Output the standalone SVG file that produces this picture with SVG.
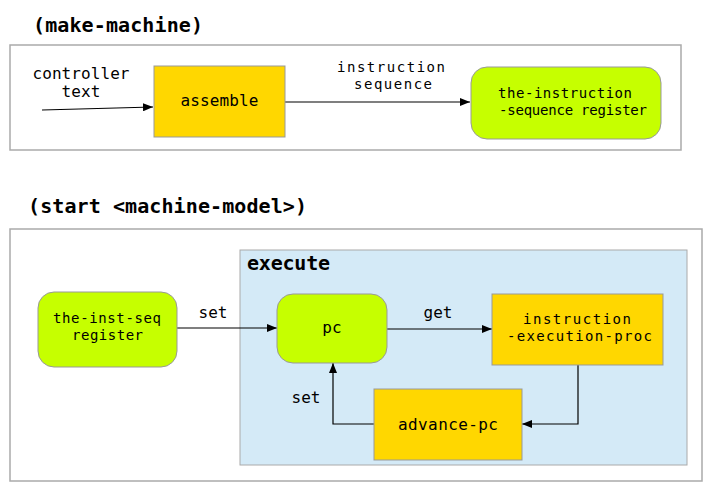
<svg xmlns="http://www.w3.org/2000/svg" width="719" height="492" viewBox="0 0 719 492">
<style>
text{font-family:"DejaVu Sans Mono","Liberation Mono",monospace;fill:#000;}
.t{font-size:16px;}
.s{font-size:14px;}
.title{font-size:20px;font-weight:bold;}
.frame{fill:#fff;stroke:#aaa;stroke-width:1.5;}
.gold{fill:#FFD700;stroke:#999;stroke-width:1;}
.green{fill:#C6FF00;stroke:#999;stroke-width:1;}
.exec{fill:#D4EAF7;stroke:#aaa;stroke-width:1;}
.c{fill:none;stroke:#000;stroke-width:1.2;}
</style>
<defs>
<marker id="ah" viewBox="0 0 10 8" refX="10" refY="4" markerWidth="10" markerHeight="8" markerUnits="userSpaceOnUse" orient="auto">
<path d="M0,0 L10,4 L0,8 z" fill="#000"/>
</marker>
</defs>
<rect width="719" height="492" fill="#fff"/>
<text class="title" x="33" y="32" textLength="170" lengthAdjust="spacing">(make-machine)</text>
<rect class="frame" x="10" y="45" width="671" height="105"/>
<text class="title" x="28" y="213" textLength="279" lengthAdjust="spacing">(start &lt;machine-model&gt;)</text>
<rect class="frame" x="10" y="229" width="692" height="252"/>
<g id="execute">
<rect class="exec" x="240" y="250" width="447" height="215"/>
<text class="title" x="247" y="270" textLength="83" lengthAdjust="spacing">execute</text>
</g>
<g id="connectors">
<path class="c" d="M42,110 L153,107" marker-end="url(#ah)"/>
<text class="t" x="81" y="79" text-anchor="middle" textLength="97" lengthAdjust="spacing">controller</text>
<text class="t" x="81" y="97" text-anchor="middle" textLength="39" lengthAdjust="spacing">text</text>
<path class="c" d="M285,102 L470,102" marker-end="url(#ah)"/>
<text class="s" x="391" y="72" text-anchor="middle" textLength="108" lengthAdjust="spacing">instruction</text>
<text class="s" x="393" y="89" text-anchor="middle" textLength="78" lengthAdjust="spacing">sequence</text>
<path class="c" d="M177,328 L277,328" marker-end="url(#ah)"/>
<text class="t" x="213" y="318" text-anchor="middle">set</text>
<path class="c" d="M387,329 L492,329" marker-end="url(#ah)"/>
<text class="t" x="438" y="318" text-anchor="middle">get</text>
<path class="c" d="M578,365 L578,424 L522,424" marker-end="url(#ah)"/>
<path class="c" d="M374,424 L333,424 L333,363" marker-end="url(#ah)"/>
<text class="t" x="306" y="403" text-anchor="middle">set</text>
</g>
<g id="assemble">
<rect class="gold" x="154" y="66" width="131" height="71"/>
<text class="t" x="219.5" y="106" text-anchor="middle" textLength="78" lengthAdjust="spacing">assemble</text>
</g>
<g id="inst-seq-register">
<rect class="green" x="471" y="67" width="190" height="72" rx="16"/>
<text class="s" x="565" y="98" text-anchor="middle" textLength="134" lengthAdjust="spacing">the-instruction</text>
<text class="s" x="573" y="115" text-anchor="middle" textLength="148" lengthAdjust="spacing">-sequence register</text>
</g>
<g id="the-inst-seq">
<rect class="green" x="38" y="292" width="139" height="75" rx="16"/>
<text class="s" x="107" y="323" text-anchor="middle" textLength="108" lengthAdjust="spacing">the-inst-seq</text>
<text class="s" x="107.5" y="340" text-anchor="middle" textLength="71" lengthAdjust="spacing">register</text>
</g>
<g id="pc">
<rect class="green" x="277" y="294" width="110" height="69" rx="16"/>
<text class="t" x="332" y="333" text-anchor="middle" font-size="18">pc</text>
</g>
<g id="instruction-execution-proc">
<rect class="gold" x="492" y="294" width="171" height="71"/>
<text class="s" x="577" y="324" text-anchor="middle" textLength="108" lengthAdjust="spacing">instruction</text>
<text class="s" x="579.5" y="341" text-anchor="middle" textLength="145" lengthAdjust="spacing">-execution-proc</text>
</g>
<g id="advance-pc">
<rect class="gold" x="374" y="389" width="148" height="71"/>
<text class="t" x="448" y="430" text-anchor="middle" textLength="100" lengthAdjust="spacing">advance-pc</text>
</g>
</svg>
